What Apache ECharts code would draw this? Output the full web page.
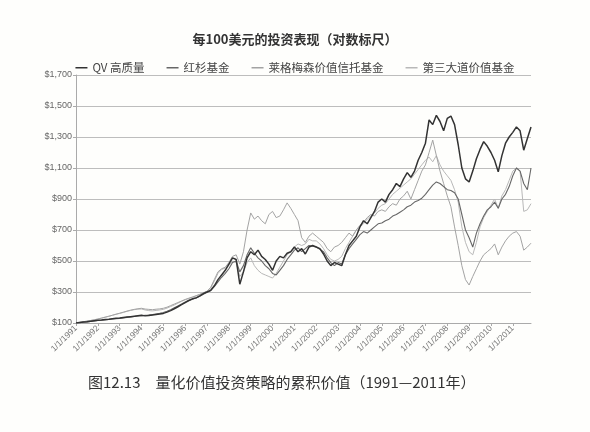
<!DOCTYPE html>
<html>
<head>
<meta charset="utf-8">
<script src="https://cdn.jsdelivr.net/npm/echarts@6/dist/echarts.min.js"></script>
<style>
html,body{margin:0;padding:0;background:#fefefc;}
#c{width:590px;height:432px;}
</style>
</head>
<body>
<div id="c"></div>
<script>
// bimonthly categories Jan 1991 .. Nov 2011 (label shown every January)
var years = [];
for (var y = 1991; y <= 2011; y++) years.push(y);
var months = [1, 3, 5, 7, 9, 11];
var categories = [];
years.forEach(function (yr) { months.forEach(function (m) { categories.push(m + '/1/' + yr); }); });

var seriesNames = ['QV 高质量', '红杉基金', '莱格梅森价值信托基金', '第三大道价值基金'];

var qv = [
  100, 103, 106, 108, 111, 114,
  117, 119, 122, 124, 127, 130,
  132, 135, 138, 141, 144, 147,
  150, 146, 149, 152, 155, 158,
  162, 170, 180, 192, 205, 218,
  232, 245, 256, 262, 275, 290,
  300, 310, 340, 380, 410, 440,
  480, 520, 510, 350, 430, 520,
  560, 540, 570, 530, 510, 480,
  440, 500, 530, 520, 550, 560,
  590, 560, 580, 545, 590, 600,
  590, 580, 545, 500, 470, 490,
  480, 470, 540, 600, 630, 660,
  720, 760, 740, 780, 820, 880,
  900, 880, 930, 960, 1000, 980,
  1030, 1070, 1040, 1080, 1150, 1200,
  1260, 1410, 1380, 1440, 1400, 1340,
  1420, 1435, 1380, 1250, 1100, 1030,
  1010, 1080, 1160, 1220, 1270, 1240,
  1200, 1150, 1075, 1180, 1260, 1300,
  1330, 1365, 1340, 1215, 1290, 1365
];
var sequoia = [
  100, 102, 105, 107, 110, 113,
  116, 118, 120, 123, 126, 128,
  130, 133, 136, 139, 142, 145,
  147, 149, 151, 154, 158, 162,
  168, 176, 186, 198, 210, 222,
  236, 246, 254, 262, 272, 285,
  298, 312, 335, 365, 395, 420,
  450, 490, 500, 430, 470, 540,
  585, 550, 520, 500, 470, 450,
  420, 410, 440, 470, 510, 540,
  570, 585, 560, 580, 600, 595,
  590, 575, 560, 520, 490, 470,
  490, 480, 540, 580, 610, 640,
  670, 690, 680, 700, 720, 740,
  745, 760, 770, 790, 800, 815,
  830, 850, 860, 880, 890, 905,
  930, 960, 990, 1010, 1000, 980,
  960, 955, 940, 900, 800, 700,
  650, 590, 680, 740, 790, 830,
  850, 880, 840, 900, 930, 980,
  1050, 1100, 1080, 1000, 960, 1100
];
var leggMason = [
  100, 104, 108, 112, 116, 120,
  125, 131, 137, 143, 150, 157,
  163, 170, 177, 183, 188, 192,
  195, 190, 188, 186, 189, 191,
  195, 202, 212, 222, 232, 242,
  252, 260, 268, 276, 285, 295,
  305, 330, 380, 430, 450, 460,
  490, 530, 540, 480, 560, 700,
  810, 770, 790, 760, 740, 800,
  820, 780, 790, 830, 875, 840,
  800, 760, 650, 620, 660, 680,
  660, 640, 620, 580, 560, 590,
  600, 620, 650, 680, 660, 700,
  730, 750, 780, 800, 790, 820,
  830, 820, 850, 870, 860, 900,
  920, 950, 900, 960, 1020, 1080,
  1120, 1200, 1280, 1180, 1080, 1000,
  920, 850, 720, 600, 470, 380,
  345, 400, 450, 500, 540, 560,
  580, 610, 540, 590, 630, 660,
  680, 690, 660, 570, 590, 615
];
var thirdAve = [
  100, 104, 108, 112, 116, 121,
  126, 132, 138, 144, 150, 156,
  162, 168, 175, 181, 186, 189,
  190, 184, 180, 178, 181, 184,
  188, 196, 206, 216, 228, 240,
  250, 258, 266, 275, 284, 294,
  304, 325, 370, 420, 445, 455,
  470, 500, 490, 400, 430, 490,
  520, 470, 440, 420, 410, 400,
  390, 420, 460, 500, 540, 560,
  590, 610, 600, 610, 640, 630,
  630, 610, 580, 540, 510, 500,
  510, 530, 580, 620, 660, 700,
  720, 740, 770, 790, 810, 840,
  860, 870, 900, 930, 950, 970,
  990, 1010, 1030, 1060, 1090, 1120,
  1150, 1170, 1140, 1180, 1120, 1080,
  1050, 1020, 960, 880, 720, 620,
  560, 540, 620, 720, 780, 820,
  860, 900, 840, 920, 960, 1020,
  1080, 1100, 1080, 820, 830, 870
];
var yMin = 100, yMax = 1700, yStep = 200;

var colors = ['#333333', '#676767', '#a3a3a3', '#b8b8b8'];
var widths = [1.5, 1.1, 1, 1];
var dataSets = [qv, sequoia, leggMason, thirdAve];

var chart = echarts.init(document.getElementById('c'));
chart.setOption({
  backgroundColor: '#fefefc',
  animation: false,
  textStyle: { fontFamily: 'Liberation Sans, Noto Sans CJK SC, sans-serif' },
  title: {
    text: '每100美元的投资表现（对数标尺）',
    left: 'center', top: 28,
    textStyle: { fontSize: 13, fontWeight: 'bold', color: '#333', fontFamily: 'Noto Sans CJK SC' }
  },
  legend: {
    top: 57, left: 'center',
    itemWidth: 12, itemHeight: 1.5, itemGap: 22,
    icon: 'rect',
    textStyle: { fontSize: 11.5, color: '#444', fontFamily: 'Noto Sans CJK SC' },
    data: seriesNames
  },
  grid: { left: 76, right: 59, top: 75, bottom: 109, containLabel: false },
  xAxis: {
    type: 'category',
    boundaryGap: false,
    data: categories,
    axisLine: { lineStyle: { color: '#aaa', width: 1 } },
    axisTick: { show: true, interval: 5, length: 3, lineStyle: { color: '#aaa' } },
    axisLabel: { interval: 5, rotate: 45, fontSize: 8.5, color: '#777', margin: 4 },
    splitLine: { show: false }
  },
  yAxis: {
    type: 'value',
    min: yMin, max: yMax, interval: yStep,
    axisLine: { show: true, lineStyle: { color: '#aaa' } },
    axisTick: { show: true, length: 3, lineStyle: { color: '#aaa' } },
    axisLabel: {
      fontSize: 9, color: '#666', margin: 4,
      formatter: function (v) { return '$' + v.toLocaleString('en-US'); }
    },
    splitLine: { lineStyle: { color: '#bdbdbd', width: 1 } }
  },
  series: dataSets.map(function (d, i) {
    return {
      name: seriesNames[i], type: 'line', data: d,
      symbol: 'none', smooth: false,
      itemStyle: { color: colors[i] },
      lineStyle: { color: colors[i], width: widths[i] },
      z: 10 - i
    };
  }),
  graphic: [{
    type: 'text', left: 88, top: 375,
    style: {
      text: '图12.13　量化价值投资策略的累积价值（1991—2011年）',
      font: '15px "Noto Sans CJK SC"', fill: '#333'
    }
  }]
});
</script>
</body>
</html>
